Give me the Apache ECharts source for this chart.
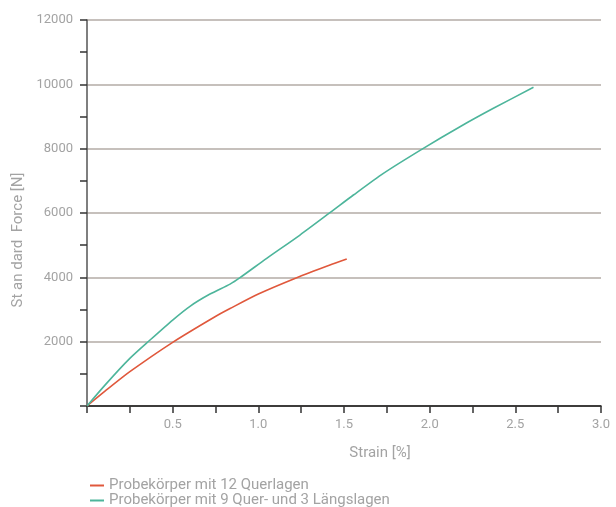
<!DOCTYPE html>
<html>
<head>
<meta charset="utf-8">
<script src="https://cdn.jsdelivr.net/npm/echarts@6/dist/echarts.min.js"></script>
<style>
  html, body { margin: 0; padding: 0; background: #fff; }
  #chart { width: 616px; height: 507px; }
</style>
</head>
<body>
<div id="chart"></div>
<script>
// Series names
const seriesNames = [
  'Probekörper mit 12 Querlagen',
  'Probekörper mit 9 Quer- und 3 Längslagen'
];

// Strain [%] / force [N] samples for each specimen
const strain12Q = [0, 0.105, 0.25, 0.5, 0.747, 0.835, 1.0, 1.224, 1.418, 1.516];
const force12Q  = [0, 460, 1066, 1980, 2776, 3030, 3481, 3988, 4383, 4570];

const strain9Q3L = [0, 0.105, 0.25, 0.368, 0.5, 0.601, 0.718, 0.835, 0.893, 1.049, 1.243, 1.418, 1.555, 1.73, 1.963, 2.177, 2.372, 2.606];
const force9Q3L  = [0, 650, 1480, 2052, 2673, 3100, 3480, 3790, 3990, 4591, 5315, 6009, 6559, 7233, 8010, 8682, 9254, 9907];

// Axis ticks
const yMajorStep = 2000;
const yMinorStep = 1000;
const xTickStep = 0.25;

const pairs = (xs, ys) => xs.map((x, i) => [x, ys[i]]);

const textColor = '#a3a3a3';
const fontFamily = 'Roboto, "DejaVu Sans", sans-serif';

const legendItem = (name, top) => ({
  orient: 'vertical',
  left: 85, top,
  itemWidth: 14, itemHeight: 2, itemGap: 0,
  icon: 'rect',
  textStyle: { color: textColor, fontSize: 15, fontFamily },
  data: [name]
});

const chart = echarts.init(document.getElementById('chart'));
chart.setOption({
  animation: false,
  color: ['#e0583c', '#4db59b'],
  grid: { left: 87, right: 15, top: 20, bottom: 101 },
  xAxis: {
    type: 'value',
    min: 0, max: 3, interval: xTickStep,
    name: 'Strain [%]',
    nameLocation: 'middle',
    nameGap: 40,
    nameTextStyle: { color: textColor, fontSize: 15, fontFamily, padding: [0, 0, 0, 72] },
    axisLine: { show: true, lineStyle: { color: '#111', width: 1.5 } },
    axisTick: { show: true, inside: false, length: 7, lineStyle: { color: '#333', width: 1.5 } },
    axisLabel: {
      color: textColor, fontSize: 13, fontFamily, margin: 12,
      formatter: v => (v > 0 && Math.abs(v * 2 - Math.round(v * 2)) < 1e-9) ? v.toFixed(1) : ''
    },
    splitLine: { show: false }
  },
  yAxis: [
    {
      type: 'value',
      min: 0, max: 12000, interval: yMajorStep,
      name: 'St an dard  Force [N]',
      nameLocation: 'middle',
      nameGap: 58,
      nameRotate: 90,
      nameTextStyle: { color: textColor, fontSize: 15, fontFamily, padding: [0, 54, 0, 0] },
      axisLine: { show: false },
      axisTick: { show: false },
      axisLabel: {
        color: textColor, fontSize: 13, fontFamily, margin: 14,
        formatter: v => v === 0 ? '' : String(v)
      },
      splitLine: { show: true, lineStyle: { color: '#b3aba6', width: 1.5 } }
    },
    {
      type: 'value',
      position: 'left',
      min: 0, max: 12000, interval: yMinorStep,
      axisLine: { show: true, lineStyle: { color: '#555', width: 1.5 } },
      axisTick: { show: true, inside: false, length: 7, lineStyle: { color: '#333', width: 1.5 } },
      axisLabel: { show: false },
      splitLine: { show: false }
    }
  ],
  legend: [
    legendItem(seriesNames[0], 473),
    legendItem(seriesNames[1], 488)
  ],
  series: [
    {
      name: seriesNames[0], type: 'line', yAxisIndex: 0,
      smooth: 0.25, showSymbol: false,
      lineStyle: { width: 1.6 },
      data: pairs(strain12Q, force12Q)
    },
    {
      name: seriesNames[1], type: 'line', yAxisIndex: 0,
      smooth: 0.25, showSymbol: false,
      lineStyle: { width: 1.6 },
      data: pairs(strain9Q3L, force9Q3L)
    }
  ]
});
</script>
</body>
</html>
